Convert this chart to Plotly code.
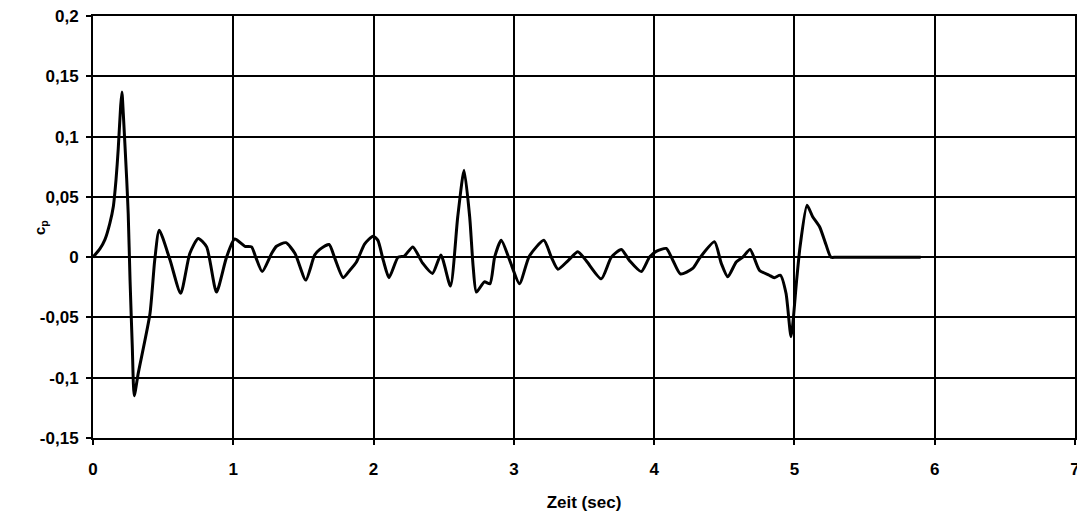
import plotly.graph_objects as go

# Zeit (sec)
zeit = [0, 0.05, 0.085, 0.12, 0.145, 0.164, 0.18, 0.197, 0.206, 0.216, 0.24, 0.251, 0.264,
        0.28, 0.294, 0.323, 0.406, 0.44, 0.472,
        0.548, 0.625, 0.69, 0.75, 0.81, 0.88, 0.952, 1.01, 1.083, 1.13, 1.16, 1.206, 1.273,
        1.308, 1.375, 1.44, 1.517, 1.58, 1.617, 1.683, 1.724, 1.783, 1.83, 1.878, 1.937,
        1.996, 2.03, 2.07, 2.11, 2.175, 2.22, 2.28, 2.35, 2.42, 2.48, 2.548, 2.60, 2.645,
        2.685, 2.71, 2.733, 2.79, 2.83, 2.863, 2.91, 2.97, 3.04, 3.11, 3.214, 3.267, 3.314,
        3.385, 3.456, 3.516, 3.623, 3.695, 3.766, 3.825, 3.908, 3.967, 4.015, 4.086, 4.133,
        4.188, 4.275, 4.323, 4.43, 4.478, 4.525, 4.585, 4.632, 4.684, 4.75, 4.82, 4.857,
        4.9, 4.94, 4.976, 5.015, 5.04, 5.09, 5.13, 5.18, 5.226, 5.26, 5.3, 5.9]
# c_p values
cp = [0, 0.007, 0.0145, 0.028, 0.042, 0.064, 0.09, 0.125, 0.137, 0.119, 0.065, 0.036, -0.019,
      -0.074, -0.115, -0.096, -0.047, -0.0025, 0.0224,
      -0.002, -0.030, 0.003, 0.0155, 0.0085, -0.029, 0.0, 0.015, 0.009, 0.0085, 0.0, -0.012,
      0.003, 0.009, 0.012, 0.003, -0.019, 0.0017, 0.0064, 0.0105, -0.001, -0.017, -0.011,
      -0.004, 0.011, 0.0174, 0.0141, -0.003, -0.017, 0.0, 0.001, 0.0085, -0.005, -0.0135,
      0.0017, -0.024, 0.0335, 0.072, 0.0335, -0.008, -0.029, -0.0205, -0.022, 0.0, 0.014,
      -0.0025, -0.022, 0.0008, 0.014, 0.0, -0.01, -0.003, 0.0044, -0.003, -0.018, 0.0,
      0.0064, -0.003, -0.012, 0.0, 0.0048, 0.0072, -0.0025, -0.014, -0.0094, -0.001,
      0.0127, -0.005, -0.0163, -0.004, 0.0, 0.0064, -0.0108, -0.015, -0.017, -0.015,
      -0.030, -0.066, -0.02, 0.0085, 0.043, 0.0335, 0.025, 0.01, 0.0, 0.0, 0.0]

x_ticks = [0, 1, 2, 3, 4, 5, 6, 7]
x_labels = ["0", "1", "2", "3", "4", "5", "6", "7"]
y_ticks = [0.2, 0.15, 0.1, 0.05, 0, -0.05, -0.1, -0.15]
y_labels = ["0,2", "0,15", "0,1", "0,05", "0", "-0,05", "-0,1", "-0,15"]

font_family = "Liberation Sans, Arial, sans-serif"

fig = go.Figure()
fig.add_trace(go.Scatter(
    x=zeit, y=cp, mode="lines",
    line=dict(color="black", width=3, shape="spline", smoothing=0.6),
    showlegend=False, hoverinfo="skip",
))

fig.update_layout(
    width=1077, height=516,
    margin=dict(l=93, r=2, t=16, b=78, autoexpand=False),
    paper_bgcolor="white", plot_bgcolor="white",
    font=dict(family=font_family, color="black", size=17),
)
fig.update_xaxes(
    range=[0, 7], tickvals=x_ticks, ticktext=x_labels, automargin=False,
    showgrid=True, gridcolor="black", gridwidth=2,
    showline=True, linecolor="black", linewidth=2, mirror=True,
    ticks="outside", ticklen=5, tickwidth=2, tickcolor="black",
    ticklabelstandoff=10, ticklabeloverflow="allow",
    tickfont=dict(family=font_family, size=17, weight="bold"),
    zeroline=False,
    title=dict(text="Zeit (sec)", font=dict(family=font_family, size=17, weight="bold"), standoff=18),
)
fig.update_yaxes(
    range=[-0.15, 0.2], tickvals=y_ticks, ticktext=y_labels, automargin=False,
    showgrid=True, gridcolor="black", gridwidth=2,
    showline=True, linecolor="black", linewidth=2, mirror=True,
    ticks="outside", ticklen=5, tickwidth=2, tickcolor="black",
    ticklabelstandoff=4,
    tickfont=dict(family=font_family, size=17, weight="bold"),
    zeroline=False,
)
fig.add_annotation(
    text="c<sub>p</sub>", textangle=-90, showarrow=False,
    xref="paper", yref="paper", x=-0.054, y=0.5, xanchor="center", yanchor="middle",
    font=dict(family=font_family, size=15, weight="bold", color="black"),
)

fig.write_html("out.html")
